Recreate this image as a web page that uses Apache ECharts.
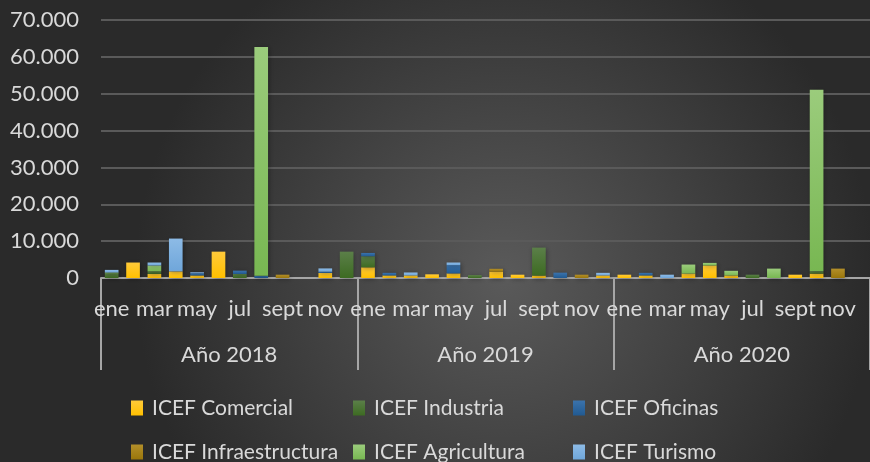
<!DOCTYPE html>
<html>
<head>
<meta charset="utf-8">
<script src="https://cdn.jsdelivr.net/npm/echarts@6/dist/echarts.min.js"></script>
<style>
html,body{margin:0;padding:0;background:#333;}
#chartdiv{width:870px;height:462px;}
</style>
</head>
<body>
<div id="chartdiv"></div>
<script>
var meses = ['ene','feb','mar','abr','may','jun','jul','ago','sept','oct','nov','dic'];
var anios = ['Año 2018','Año 2019','Año 2020'];

// valores por mes, 2018 / 2019 / 2020
var comercial = [0,4200,1100,1800,700,7150,0,0,0,0,1350,0,
	2900,700,700,1000,1250,0,1700,900,650,0,0,700,
	900,700,0,1200,3400,700,0,0,900,1200,0,0];
var industria = [1200,0,700,0,0,0,1100,0,0,0,0,7150,
	3000,0,0,0,0,800,0,0,7600,0,0,0,
	0,0,0,0,0,0,900,0,0,600,0,0];
var oficinas = [0,0,0,0,600,0,900,600,0,0,350,0,
	900,700,0,0,2250,0,0,0,0,1450,0,0,
	0,700,0,0,0,0,0,0,0,0,0,0];
var infraestructura = [0,0,0,0,0,0,0,0,900,0,0,0,
	0,0,0,0,0,0,800,0,0,0,900,0,
	0,0,0,0,0,0,0,0,0,0,2550,0];
var agricultura = [300,0,1600,0,0,0,0,62100,0,0,0,0,
	0,0,0,0,0,0,0,0,0,0,0,0,
	0,0,0,2450,700,1250,0,2550,0,49300,0,0];
var turismo = [700,0,800,8900,250,0,0,0,0,0,900,0,
	0,0,800,0,700,0,0,0,0,0,0,700,
	0,0,900,0,0,0,0,0,0,0,0,0];

var categorias = [];
for (var a = 0; a < anios.length; a++) {
	for (var m = 0; m < meses.length; m++) {
		categorias.push(meses[m] + '|' + a);
	}
}

var fuente = 'Lato';
var gris = '#d9d9d9';

function degradado(arriba, abajo) {
	return new echarts.graphic.LinearGradient(0, 0, 0, 1, [
		{offset: 0, color: arriba},
		{offset: 1, color: abajo}
	]);
}

function serie(nombre, datos, arriba, abajo) {
	return {
		name: nombre,
		type: 'bar',
		stack: 'total',
		barWidth: '64%',
		data: datos,
		itemStyle: {
			color: degradado(arriba, abajo),
			shadowBlur: 5,
			shadowOffsetX: 1,
			shadowOffsetY: 1,
			shadowColor: 'rgba(0,0,0,0.35)'
		}
	};
}

// una leyenda por item, en 2 filas x 3 columnas
function leyenda(izq, arriba, nombre) {
	return {
		left: izq,
		top: arriba,
		icon: 'rect',
		itemWidth: 12,
		itemHeight: 15,
		padding: 0,
		data: [nombre],
		textStyle: {color: gris, fontFamily: fuente, fontSize: 21, lineHeight: 24, padding: [0,0,0,4]}
	};
}

var option = {
	animation: false,
	backgroundColor: {
		type: 'radial', x: 0.58, y: 0.6, r: 0.8,
		colorStops: [{offset: 0, color: '#5a5a5a'}, {offset: 1, color: '#2a2a2a'}]
	},
	grid: {left: 101, top: 20, width: 776, height: 258},
	legend: [
		leyenda(131, 396, 'ICEF Comercial'),
		leyenda(353, 396, 'ICEF Industria'),
		leyenda(573, 396, 'ICEF Oficinas'),
		leyenda(131, 440, 'ICEF Infraestructura'),
		leyenda(353, 440, 'ICEF Agricultura'),
		leyenda(573, 440, 'ICEF Turismo')
	],
	xAxis: [{
		type: 'category',
		data: categorias,
		axisLine: {lineStyle: {color: '#a6a6a6', width: 2}},
		axisTick: {show: false},
		axisLabel: {
			interval: 1,
			margin: 20,
			color: gris,
			fontFamily: fuente,
			fontSize: 22,
			formatter: function(v) { return v.split('|')[0]; }
		}
	}, {
		type: 'category',
		position: 'bottom',
		data: anios,
		axisLine: {show: false},
		axisTick: {show: true, length: 92, lineStyle: {color: '#a6a6a6', width: 2}},
		axisLabel: {margin: 66, color: gris, fontFamily: fuente, fontSize: 22}
	}],
	yAxis: {
		type: 'value',
		min: 0,
		max: 70000,
		interval: 10000,
		axisLine: {show: false},
		axisTick: {show: false},
		splitLine: {lineStyle: {color: '#5a5a5a', width: 2}},
		axisLabel: {
			margin: 22,
			color: gris,
			fontFamily: fuente,
			fontSize: 22,
			formatter: function(v) {
				return String(v).replace(/\B(?=(\d{3})+(?!\d))/g, '.');
			}
		}
	},
	series: [
		serie('ICEF Comercial', comercial, '#ffca3a', '#ffc000'),
		serie('ICEF Industria', industria, '#5b7f49', '#3d6b22'),
		serie('ICEF Oficinas', oficinas, '#3b73ac', '#215a92'),
		serie('ICEF Infraestructura', infraestructura, '#b38f2a', '#9a760b'),
		serie('ICEF Agricultura', agricultura, '#9bcc7c', '#78b752'),
		serie('ICEF Turismo', turismo, '#8dbbe6', '#6fa6da')
	]
};

var myChart = echarts.init(document.getElementById('chartdiv'));
myChart.setOption(option);
</script>
</body>
</html>
